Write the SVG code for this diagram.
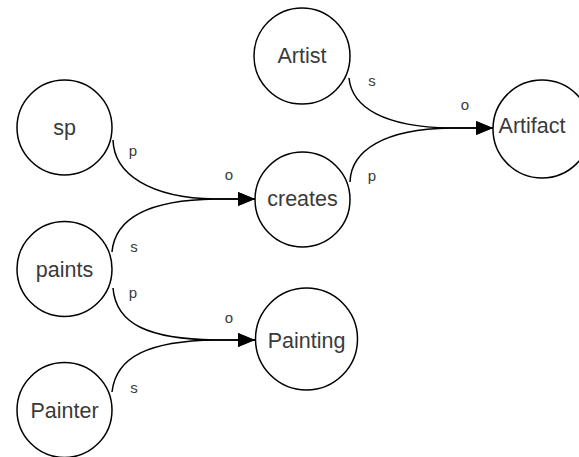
<svg xmlns="http://www.w3.org/2000/svg" width="579" height="457" viewBox="0 0 579 457">
<style>
.node circle{fill:#fff;stroke:#000;stroke-width:1.5}
.node text{font-family:"Liberation Sans",Arial,sans-serif;font-size:21.5px;fill:#3a3a3a;text-anchor:middle}
.edge{fill:none;stroke:#000;stroke-width:1.5}
.lbl{font-family:"Liberation Sans",Arial,sans-serif;font-size:15px;fill:#3a3a3a;text-anchor:middle}
</style>
<defs>
<marker id="arr" markerUnits="userSpaceOnUse" markerWidth="18" markerHeight="15" refX="17" refY="7" orient="auto">
<path d="M0,0 L17,7 L0,14 z" fill="#000"/>
</marker>
</defs>
<rect width="579" height="457" fill="#fff"/>
<g id="connectors">
<path class="edge" d="M113,140 C114,174 150,198 215,199 L255,199" marker-end="url(#arr)"/>
<path class="edge" d="M112,252 C115,218 150,200 215,199 L255,199" marker-end="url(#arr)"/>
<path class="edge" d="M113,288 C116,325 150,339 215,340 L255,340" marker-end="url(#arr)"/>
<path class="edge" d="M112,392 C116,356 150,341 215,340 L255,340" marker-end="url(#arr)"/>
<path class="edge" d="M349,78 C352,108 385,127 450,128 L493,128" marker-end="url(#arr)"/>
<path class="edge" d="M350,182 C351,150 385,129 450,128 L493,128" marker-end="url(#arr)"/>
<text class="lbl" x="133" y="156">p</text>
<text class="lbl" x="229" y="180">o</text>
<text class="lbl" x="134" y="252">s</text>
<text class="lbl" x="133" y="298">p</text>
<text class="lbl" x="229" y="323">o</text>
<text class="lbl" x="134" y="393">s</text>
<text class="lbl" x="372" y="86">s</text>
<text class="lbl" x="465" y="110">o</text>
<text class="lbl" x="372" y="181">p</text>
</g>
<g id="node-sp" class="node"><circle cx="64.5" cy="127.5" r="47.5"/><text x="64.5" y="135">sp</text></g>
<g id="node-paints" class="node"><circle cx="64.5" cy="269" r="47.5"/><text x="64.5" y="277">paints</text></g>
<g id="node-Painter" class="node"><circle cx="64.5" cy="410" r="47.5"/><text x="64.5" y="418">Painter</text></g>
<g id="node-creates" class="node"><circle cx="302.5" cy="199.5" r="47.5"/><text x="302.5" y="206">creates</text></g>
<g id="node-Painting" class="node"><circle cx="306.5" cy="339" r="51"/><text x="306.5" y="348">Painting</text></g>
<g id="node-Artist" class="node"><circle cx="302" cy="56" r="48"/><text x="302" y="63">Artist</text></g>
<g id="node-Artifact" class="node"><circle cx="542" cy="129" r="49"/><text x="532" y="133">Artifact</text></g>
</svg>
